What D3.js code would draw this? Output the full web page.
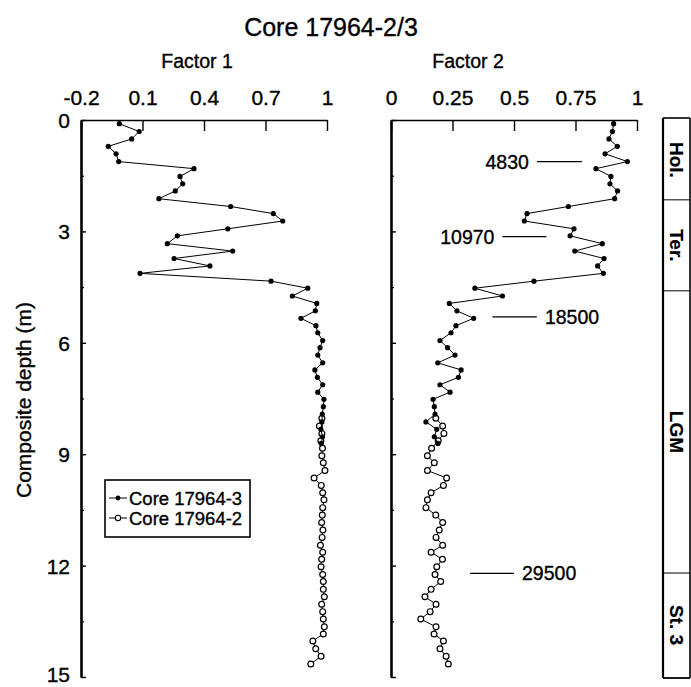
<!DOCTYPE html>
<html>
<head>
<meta charset="utf-8">
<script src="https://cdn.jsdelivr.net/npm/d3@7"></script>
<style>
  html, body { margin: 0; padding: 0; background: #fff; }
  svg { display: block; }
  text { font-family: "Liberation Sans", Arial, Helvetica, sans-serif; fill: #000; stroke: #000; stroke-width: 0.35px; }
</style>
</head>
<body>
<svg id="chart" width="691" height="687"></svg>
<script>
// Core 17964-3 (upper section), sample depths in metres
const depth3 = [0.10, 0.31, 0.51, 0.71, 0.91, 1.12, 1.31, 1.52, 1.72, 1.91,
  2.12, 2.33, 2.52, 2.72, 2.93, 3.12, 3.33, 3.53, 3.73, 3.93,
  4.13, 4.34, 4.53, 4.74, 4.94, 5.14, 5.34, 5.54, 5.73, 5.94,
  6.13, 6.33, 6.54, 6.73, 6.93, 7.13, 7.33, 7.52, 7.72, 7.92,
  8.13, 8.33, 8.53, 8.71];
const factor1Core3 = [-0.013, 0.084, 0.047, -0.067, -0.029, -0.016, 0.351, 0.283, 0.296, 0.260,
  0.180, 0.530, 0.738, 0.784, 0.516, 0.270, 0.221, 0.540, 0.254, 0.429,
  0.088, 0.727, 0.906, 0.831, 0.950, 0.943, 0.873, 0.946, 0.955, 0.979,
  0.966, 0.955, 0.979, 0.941, 0.953, 0.979, 0.955, 0.985, 0.982, 0.977,
  0.975, 0.970, 0.978, 0.972];
const factor2Core3 = [0.905, 0.900, 0.886, 0.920, 0.870, 0.961, 0.833, 0.894, 0.890, 0.921,
  0.909, 0.721, 0.553, 0.542, 0.744, 0.728, 0.859, 0.747, 0.866, 0.840,
  0.863, 0.581, 0.341, 0.453, 0.237, 0.268, 0.336, 0.264, 0.244, 0.199,
  0.230, 0.260, 0.190, 0.285, 0.274, 0.199, 0.240, 0.171, 0.176, 0.179,
  0.142, 0.186, 0.176, 0.191];

// Core 17964-2 (lower section)
const depth2 = [8.03, 8.24, 8.44, 8.64, 8.84, 9.04, 9.23, 9.44, 9.64, 9.84,
  10.04, 10.23, 10.44, 10.64, 10.84, 11.04, 11.24, 11.45, 11.64, 11.83,
  12.03, 12.24, 12.43, 12.64, 12.84, 13.04, 13.24, 13.44, 13.65, 13.84,
  14.03, 14.24, 14.44, 14.65];
const factor1Core2 = [0.975, 0.963, 0.975, 0.970, 0.978, 0.975, 0.982, 0.990, 0.937, 0.972,
  0.979, 0.985, 0.979, 0.977, 0.974, 0.980, 0.976, 0.968, 0.979, 0.974,
  0.971, 0.979, 0.982, 0.982, 0.987, 0.974, 0.979, 0.982, 0.987, 0.982,
  0.931, 0.945, 0.971, 0.921];
const factor2Core2 = [0.182, 0.210, 0.215, 0.192, 0.165, 0.148, 0.176, 0.148, 0.226, 0.213,
  0.163, 0.148, 0.142, 0.182, 0.210, 0.196, 0.183, 0.210, 0.163, 0.209,
  0.186, 0.179, 0.202, 0.163, 0.138, 0.183, 0.159, 0.121, 0.183, 0.175,
  0.213, 0.199, 0.224, 0.233];

// Axis ticks
const depthTicks = [0, 3, 6, 9, 12, 15];
const depthMinorTicks = [1.5, 4.5, 7.5, 10.5, 13.5];
const factor1Ticks = [-0.2, 0.1, 0.4, 0.7, 1];
const factor1TickLabels = ["-0.2", "0.1", "0.4", "0.7", "1"];
const factor2Ticks = [0, 0.25, 0.5, 0.75, 1];
const factor2TickLabels = ["0", "0.25", "0.5", "0.75", "1"];

// Radiocarbon ages marked beside the Factor 2 curve
const ageLabels = ["4830", "10970", "18500", "29500"];
const ageDepths = [1.12, 3.14, 5.30, 12.21];

// Stratigraphic units and their lower boundaries (m)
const stageNames = ["Hol.", "Ter.", "LGM", "St. 3"];
const stageBases = [2.15, 4.6, 12.2, 15];

const svg = d3.select("#chart");

const y = d3.scaleLinear().domain([0, 15]).range([120, 677]);
const x1 = d3.scaleLinear().domain([-0.2, 1]).range([81, 327]);
const x2 = d3.scaleLinear().domain([0, 1]).range([391, 637]);

// Title and panel headings
svg.append("text").attr("x", 331).attr("y", 36).attr("text-anchor", "middle")
  .style("font-size", "25px").text("Core 17964-2/3");
svg.append("text").attr("x", 197).attr("y", 68).attr("text-anchor", "middle")
  .style("font-size", "19.5px").text("Factor 1");
svg.append("text").attr("x", 468).attr("y", 68).attr("text-anchor", "middle")
  .style("font-size", "19.5px").text("Factor 2");

// Y axis title
svg.append("text")
  .attr("transform", "translate(31,400) rotate(-90)")
  .attr("text-anchor", "middle")
  .style("font-size", "21px")
  .text("Composite depth (m)");

function drawPanel(x, ticks, tickLabels, showDepthLabels, line1Data, line2Data) {
  const g = svg.append("g");

  // top axis, ticks pointing into the panel
  const top = d3.axisTop(x).tickValues(ticks)
    .tickFormat((d, i) => tickLabels[i])
    .tickSizeInner(-11).tickSizeOuter(0).tickPadding(15);
  const gt = g.append("g").attr("transform", `translate(0,${y(0)})`).call(top);
  gt.select(".domain").attr("stroke-width", 1.6);
  gt.selectAll(".tick line").attr("stroke-width", 1.4);
  gt.selectAll(".tick text").style("font-size", "21px")
    .style("font-family", '"Liberation Sans", Arial, sans-serif')
    .attr("stroke", "#000").attr("stroke-width", 0.35).attr("dy", "0");

  // left depth axis
  const left = d3.axisLeft(y).tickValues(depthTicks)
    .tickFormat(showDepthLabels ? d3.format("d") : () => "")
    .tickSizeInner(-5).tickSizeOuter(0).tickPadding(11);
  const gl = g.append("g").attr("transform", `translate(${x.range()[0]},0)`).call(left);
  gl.select(".domain").attr("stroke-width", 2.6);
  gl.selectAll(".tick line").attr("stroke-width", 1.4);
  gl.selectAll(".tick text").style("font-size", "21px")
    .style("font-family", '"Liberation Sans", Arial, sans-serif')
    .attr("stroke", "#000").attr("stroke-width", 0.35)
    .attr("dy", d => d === 15 ? "0.22em" : "0.36em");

  const minor = d3.axisLeft(y).tickValues(depthMinorTicks)
    .tickFormat(() => "").tickSizeInner(-3).tickSizeOuter(0);
  const gm = g.append("g").attr("transform", `translate(${x.range()[0]},0)`).call(minor);
  gm.select(".domain").remove();
  gm.selectAll(".tick line").attr("stroke-width", 1.2);

  const line = d3.line().x(d => x(d[1])).y(d => y(d[0]));

  // Core 17964-2 (open circles)
  g.append("path").datum(line2Data).attr("d", line)
    .attr("fill", "none").attr("stroke", "#000").attr("stroke-width", 1);
  g.selectAll(".open").data(line2Data).join("circle")
    .attr("cx", d => x(d[1])).attr("cy", d => y(d[0])).attr("r", 2.9)
    .attr("fill", "#fff").attr("stroke", "#000").attr("stroke-width", 1.2);

  // Core 17964-3 (filled dots)
  g.append("path").datum(line1Data).attr("d", line)
    .attr("fill", "none").attr("stroke", "#000").attr("stroke-width", 1);
  g.selectAll(".filled").data(line1Data).join("circle")
    .attr("cx", d => x(d[1])).attr("cy", d => y(d[0])).attr("r", 2.6)
    .attr("fill", "#000");
  return g;
}

drawPanel(x1, factor1Ticks, factor1TickLabels, true,
  depth3.map((d, i) => [d, factor1Core3[i]]),
  depth2.map((d, i) => [d, factor1Core2[i]]));
drawPanel(x2, factor2Ticks, factor2TickLabels, false,
  depth3.map((d, i) => [d, factor2Core3[i]]),
  depth2.map((d, i) => [d, factor2Core2[i]]));

// Age markers: short leader line plus label (in Factor 2 units)
const ageLayout = [
  { from: 0.593, to: 0.776, side: "left" },
  { from: 0.453, to: 0.632, side: "left" },
  { from: 0.412, to: 0.593, side: "right" },
  { from: 0.321, to: 0.500, side: "right" }
];
ageLabels.forEach((lab, i) => {
  const L = ageLayout[i];
  const yy = y(ageDepths[i]);
  svg.append("line").attr("x1", x2(L.from)).attr("x2", x2(L.to))
    .attr("y1", yy).attr("y2", yy).attr("stroke", "#000").attr("stroke-width", 1.2);
  svg.append("text")
    .attr("x", L.side === "left" ? x2(L.from) - 8 : x2(L.to) + 8)
    .attr("y", yy).attr("dy", "0.36em")
    .attr("text-anchor", L.side === "left" ? "end" : "start")
    .style("font-size", "19.5px").text(lab);
});

// Stratigraphic column on the right
const colL = 663, colR = 690;
const colTop = y(0) - 2;
const colG = svg.append("g");
colG.append("line").attr("x1", colL).attr("x2", colL).attr("y1", colTop).attr("y2", y(15) + 1)
  .attr("stroke", "#000").attr("stroke-width", 2.2);
colG.append("line").attr("x1", colR).attr("x2", colR).attr("y1", colTop).attr("y2", y(15) + 1)
  .attr("stroke", "#000").attr("stroke-width", 1.6);
colG.append("line").attr("x1", colL).attr("x2", colR).attr("y1", colTop).attr("y2", colTop)
  .attr("stroke", "#000").attr("stroke-width", 1.6);
let prev = 0;
stageNames.forEach((name, i) => {
  const base = stageBases[i];
  const yb = i === stageNames.length - 1 ? y(base) + 1 : y(base);
  colG.append("line").attr("x1", colL).attr("x2", colR).attr("y1", yb).attr("y2", yb)
    .attr("stroke", "#000").attr("stroke-width", i === stageNames.length - 1 ? 1.8 : 1);
  const yc = (y(prev) + y(base)) / 2;
  colG.append("text")
    .attr("transform", `translate(${(colL + colR) / 2},${yc}) rotate(90)`)
    .attr("text-anchor", "middle").attr("dy", "0.36em")
    .style("font-size", "19px").style("font-weight", "bold").style("stroke-width", "0.2px").text(name);
  prev = base;
});

// Legend
const lg = svg.append("g");
lg.append("rect").attr("x", 105).attr("y", 480).attr("width", 145).attr("height", 57)
  .attr("fill", "#fff").attr("stroke", "#000").attr("stroke-width", 1.6);
const legendItems = [
  { label: "Core 17964-3", filled: true, yy: 498 },
  { label: "Core 17964-2", filled: false, yy: 518 }
];
legendItems.forEach(it => {
  lg.append("line").attr("x1", 109).attr("x2", 127).attr("y1", it.yy).attr("y2", it.yy)
    .attr("stroke", "#000").attr("stroke-width", 1);
  lg.append("circle").attr("cx", 118).attr("cy", it.yy).attr("r", it.filled ? 2.4 : 2.7)
    .attr("fill", it.filled ? "#000" : "#fff").attr("stroke", "#000")
    .attr("stroke-width", it.filled ? 0 : 1.1);
  lg.append("text").attr("x", 129).attr("y", it.yy).attr("dy", "0.36em")
    .style("font-size", "18.5px").text(it.label);
});
</script>
</body>
</html>
